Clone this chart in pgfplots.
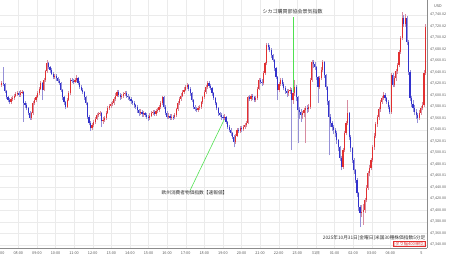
\documentclass[border=0pt]{standalone}
\usepackage{pgfplots}
\usepackage{pgfplotstable}
\pgfplotsset{compat=1.18}
\usepackage{fontspec}
\setmainfont{Noto Sans CJK JP}
\definecolor{upc}{RGB}{226,48,48}
\definecolor{dnc}{RGB}{50,50,205}
\definecolor{upw}{RGB}{215,140,160}
\definecolor{dnw}{RGB}{150,145,215}
\definecolor{gline}{RGB}{80,225,80}
\definecolor{lbl}{RGB}{85,85,85}
\pgfplotstableread{
i o c h l
0 47618 47622 47626 47615
1 47622 47620 47649 47617
2 47620 47608 47622 47605
3 47608 47597 47610 47594
4 47597 47592 47600 47588
5 47592 47589 47595 47585
6 47589 47594 47597 47586
7 47594 47596 47600 47591
8 47596 47599 47602 47593
9 47599 47602 47606 47597
10 47602 47604 47608 47600
11 47604 47601 47607 47598
12 47601 47605 47609 47598
13 47605 47606 47610 47602
14 47606 47587 47608 47554
15 47587 47584 47591 47578
16 47584 47578 47587 47574
17 47578 47570 47580 47566
18 47570 47561 47573 47558
19 47561 47569 47572 47558
20 47569 47587 47590 47566
21 47587 47592 47596 47584
22 47592 47598 47601 47589
23 47598 47604 47607 47595
24 47604 47612 47615 47601
25 47612 47622 47625 47609
26 47622 47610 47624 47592
27 47610 47627 47630 47607
28 47627 47642 47645 47624
29 47642 47656 47661 47639
30 47656 47650 47659 47646
31 47650 47644 47652 47640
32 47644 47638 47647 47635
33 47638 47632 47641 47628
34 47632 47634 47638 47629
35 47634 47630 47637 47626
36 47630 47626 47633 47622
37 47626 47622 47629 47618
38 47622 47610 47624 47606
39 47610 47597 47612 47593
40 47597 47588 47599 47584
41 47588 47580 47590 47576
42 47580 47592 47595 47578
43 47592 47604 47607 47590
44 47604 47627 47630 47601
45 47627 47625 47631 47621
46 47625 47624 47628 47620
47 47624 47627 47631 47621
48 47627 47630 47636 47624
49 47630 47622 47632 47619
50 47622 47615 47625 47611
51 47615 47610 47618 47607
52 47610 47606 47613 47602
53 47606 47597 47608 47593
54 47597 47587 47599 47583
55 47587 47563 47589 47559
56 47563 47552 47566 47548
57 47552 47543 47555 47539
58 47543 47548 47552 47540
59 47548 47554 47558 47545
60 47554 47560 47563 47551
61 47560 47566 47570 47557
62 47566 47568 47572 47562
63 47568 47569 47573 47564
64 47569 47555 47571 47545
65 47555 47558 47562 47551
66 47558 47561 47565 47554
67 47561 47570 47573 47558
68 47570 47578 47581 47567
69 47578 47582 47586 47575
70 47582 47585 47589 47579
71 47585 47587 47591 47581
72 47587 47594 47597 47584
73 47594 47600 47604 47591
74 47600 47606 47610 47597
75 47606 47601 47609 47598
76 47601 47597 47604 47593
77 47597 47599 47603 47594
78 47599 47602 47606 47596
79 47602 47604 47608 47599
80 47604 47600 47607 47596
81 47600 47597 47603 47593
82 47597 47594 47600 47590
83 47594 47590 47597 47586
84 47590 47587 47593 47583
85 47587 47583 47590 47579
86 47583 47580 47586 47576
87 47580 47574 47583 47570
88 47574 47569 47577 47565
89 47569 47572 47576 47566
90 47572 47567 47575 47563
91 47567 47569 47573 47563
92 47569 47566 47572 47562
93 47566 47563 47569 47559
94 47563 47561 47566 47556
95 47561 47565 47569 47558
96 47565 47569 47573 47562
97 47569 47571 47575 47566
98 47571 47568 47574 47564
99 47568 47573 47577 47565
100 47573 47575 47579 47570
101 47575 47580 47584 47572
102 47580 47587 47591 47577
103 47587 47597 47600 47584
104 47597 47580 47599 47576
105 47580 47570 47583 47566
106 47570 47563 47573 47559
107 47563 47565 47569 47559
108 47565 47561 47568 47557
109 47561 47563 47567 47558
110 47563 47562 47566 47558
111 47562 47566 47570 47559
112 47566 47576 47579 47563
113 47576 47587 47590 47573
114 47587 47594 47597 47584
115 47594 47600 47604 47591
116 47600 47606 47610 47597
117 47606 47610 47614 47603
118 47610 47614 47618 47607
119 47614 47618 47622 47611
120 47618 47611 47620 47607
121 47611 47604 47614 47600
122 47604 47592 47606 47588
123 47592 47580 47594 47576
124 47580 47577 47583 47573
125 47577 47575 47580 47571
126 47575 47578 47582 47572
127 47578 47580 47584 47575
128 47580 47588 47591 47577
129 47588 47597 47600 47585
130 47597 47606 47609 47594
131 47606 47615 47618 47603
132 47615 47622 47626 47612
133 47622 47617 47625 47613
134 47617 47613 47620 47609
135 47613 47604 47615 47600
136 47604 47596 47606 47592
137 47596 47587 47598 47583
138 47587 47578 47589 47574
139 47578 47569 47580 47565
140 47569 47566 47572 47562
141 47566 47562 47569 47558
142 47562 47561 47566 47557
143 47561 47563 47567 47557
144 47563 47554 47565 47550
145 47554 47545 47556 47541
146 47545 47540 47548 47536
147 47540 47534 47543 47530
148 47534 47528 47537 47524
149 47528 47519 47531 47510
150 47519 47530 47533 47516
151 47530 47540 47543 47527
152 47540 47538 47544 47534
153 47538 47543 47547 47535
154 47543 47541 47547 47537
155 47541 47545 47549 47538
156 47545 47548 47552 47542
157 47548 47552 47556 47545
158 47552 47597 47600 47550
159 47597 47594 47601 47590
160 47594 47599 47603 47590
161 47599 47597 47603 47592
162 47597 47593 47600 47588
163 47593 47596 47600 47589
164 47596 47612 47615 47593
165 47612 47627 47630 47609
166 47627 47624 47631 47620
167 47624 47622 47628 47617
168 47622 47640 47643 47619
169 47640 47656 47659 47636
170 47656 47688 47692 47653
171 47688 47684 47691 47679
172 47684 47679 47687 47675
173 47679 47670 47682 47666
174 47670 47662 47673 47658
175 47662 47647 47664 47643
176 47647 47632 47649 47628
177 47632 47610 47634 47592
178 47610 47620 47624 47606
179 47620 47627 47631 47616
180 47627 47620 47630 47616
181 47620 47613 47623 47609
182 47613 47608 47616 47603
183 47608 47604 47611 47598
184 47604 47607 47611 47600
185 47607 47610 47615 47602
186 47610 47592 47613 47505
187 47592 47605 47609 47586
188 47605 47615 47627 47600
189 47615 47597 47618 47590
190 47597 47575 47600 47517
191 47575 47572 47580 47560
192 47572 47566 47576 47554
193 47566 47569 47573 47560
194 47569 47574 47578 47562
195 47574 47578 47582 47517
196 47578 47576 47583 47570
197 47576 47580 47585 47571
198 47580 47627 47630 47577
199 47627 47658 47662 47624
200 47658 47654 47661 47648
201 47654 47649 47658 47644
202 47649 47632 47651 47627
203 47632 47615 47634 47587
204 47615 47630 47634 47611
205 47630 47645 47649 47627
206 47645 47658 47662 47641
207 47658 47636 47660 47631
208 47636 47615 47638 47610
209 47615 47590 47617 47584
210 47590 47563 47592 47496
211 47563 47552 47568 47546
212 47552 47545 47556 47538
213 47545 47540 47549 47533
214 47540 47535 47544 47528
215 47535 47522 47538 47516
216 47522 47510 47525 47503
217 47510 47492 47513 47486
218 47492 47476 47495 47470
219 47476 47505 47509 47473
220 47505 47535 47538 47501
221 47535 47552 47556 47531
222 47552 47569 47592 47548
223 47569 47528 47571 47522
224 47528 47508 47531 47502
225 47508 47488 47511 47482
226 47488 47470 47491 47464
227 47470 47453 47473 47447
228 47453 47430 47456 47424
229 47430 47406 47433 47400
230 47406 47396 47409 47371
231 47396 47398 47410 47388
232 47398 47401 47412 47375
233 47401 47418 47422 47396
234 47418 47440 47444 47414
235 47440 47465 47469 47436
236 47465 47474 47480 47460
237 47474 47488 47492 47470
238 47488 47510 47514 47484
239 47510 47530 47534 47506
240 47530 47550 47554 47526
241 47550 47562 47566 47546
242 47562 47576 47580 47558
243 47576 47589 47593 47572
244 47589 47596 47600 47585
245 47596 47601 47606 47592
246 47601 47595 47604 47591
247 47595 47589 47598 47585
248 47589 47580 47592 47576
249 47580 47571 47583 47567
250 47571 47636 47640 47568
251 47636 47618 47639 47614
252 47618 47630 47634 47614
253 47630 47642 47646 47626
254 47642 47653 47657 47638
255 47653 47676 47680 47649
256 47676 47700 47704 47672
257 47700 47735 47745 47696
258 47735 47725 47740 47720
259 47725 47735 47742 47720
260 47735 47693 47738 47688
261 47693 47641 47696 47636
262 47641 47596 47644 47590
263 47596 47585 47600 47580
264 47585 47578 47592 47572
265 47578 47572 47583 47566
266 47572 47566 47577 47560
267 47566 47561 47570 47552
268 47561 47570 47574 47557
269 47570 47578 47582 47566
270 47578 47583 47588 47574
271 47583 47640 47644 47580
272 47640 47720 47725 47636
}\candles
\begin{document}
\begin{tikzpicture}
\useasboundingbox (0pt,-10pt) rectangle (450pt,248pt);
\begin{axis}[
  at={(0pt,0pt)}, anchor=south west,
  width=427pt, height=248pt, scale only axis,
  xmin=-1.09, xmax=272.96, ymin=47334.8, ymax=47766.1,
  axis x line*=bottom, axis y line*=right,
  axis line style={draw=black!45, line width=0.4pt},
  major tick length=0pt,
  xtick={10.65,22.59,34.53,46.47,58.41,70.34,82.28,94.22,106.16,118.10,130.03,141.97,153.91,165.85,177.79,189.72,201.66,213.60,225.54,237.48,249.41},
  xticklabels={08:00,09:00,10:00,11:00,12:00,13:00,14:00,15:00,16:00,17:00,18:00,19:00,20:00,21:00,22:00,23:00,31日,01:00,02:00,03:00,04:00},
  ytick={47340,47360,...,47740},
  scaled y ticks=false,
  grid=major, grid style={draw=black!8, line width=0.4pt},
  /pgf/number format/assume math mode=true,
  y tick label style={/pgf/number format/fixed, /pgf/number format/fixed zerofill, /pgf/number format/precision=2, /pgf/number format/1000 sep={,}, font=\fontsize{3.6}{4}\selectfont, text=lbl, inner sep=0pt, anchor=west, xshift=3pt},
  x tick label style={font=\fontsize{3.8}{4}\selectfont, text=lbl, inner sep=0pt, anchor=north, yshift=-3.2pt},
]
% wicks
\addplot[draw=none, mark=none, forget plot,
  restrict expr to domain={\thisrow{c}-\thisrow{o}}{0:100000},
  error bars/.cd, y dir=plus, y explicit, error mark=none,
  error bar style={draw=upw, line width=0.45pt}]
  table[x=i, y=l, y error expr=\thisrow{h}-\thisrow{l}] {\candles};
\addplot[draw=none, mark=none, forget plot,
  restrict expr to domain={\thisrow{c}-\thisrow{o}}{-100000:-0.5},
  error bars/.cd, y dir=plus, y explicit, error mark=none,
  error bar style={draw=dnw, line width=0.45pt}]
  table[x=i, y=l, y error expr=\thisrow{h}-\thisrow{l}] {\candles};
% bodies
\addplot[draw=none, mark=none, forget plot,
  restrict expr to domain={\thisrow{c}-\thisrow{o}}{0:100000},
  error bars/.cd, y dir=plus, y explicit, error mark=none,
  error bar style={draw=upc, line width=1.15pt, line cap=butt}]
  table[x=i, y=o, y error expr=\thisrow{c}-\thisrow{o}] {\candles};
\addplot[draw=none, mark=none, forget plot,
  restrict expr to domain={\thisrow{c}-\thisrow{o}}{-100000:-0.5},
  error bars/.cd, y dir=plus, y explicit, error mark=none,
  error bar style={draw=dnc, line width=1.15pt, line cap=butt}]
  table[x=i, y=c, y error expr=\thisrow{o}-\thisrow{c}] {\candles};
\end{axis}
% grid line and label for 07:00 at the left edge
\draw[black!8, line width=0.4pt] (-0.3pt,0pt) -- (-0.3pt,248pt);
\node[font=\fontsize{3.8}{4}\selectfont, text=lbl, inner sep=0pt, anchor=north] at (-0.3pt,-3.2pt) {07:00};
% annotations (image px -> pt, y flipped)
\draw[gline, line width=0.65pt] (293.6pt,231pt) -- (293.6pt,156pt);
\node[font=\fontsize{5}{6}\selectfont, text=black!80, inner sep=0pt] at (292.7pt,236.3pt) {シカゴ購買部協会景気指数};
\draw[gline, line width=0.6pt] (224pt,128pt) -- (190pt,57.5pt);
\node[font=\fontsize{4.7}{5.5}\selectfont, text=black!80, inner sep=0pt] at (194.5pt,55pt) {欧州消費者物価指数【速報値】};
\node[font=\fontsize{4.7}{5.5}\selectfont, text=black!80, inner sep=0pt, anchor=east] at (425.5pt,10pt) {2025年10月31日[金曜日]米国30種株価指数5分足};
\node[font=\fontsize{4.2}{5}\selectfont, text=upc, draw=upc, line width=0.35pt, inner sep=0.5pt, anchor=east] at (425.5pt,4.3pt) {[ダウ幅400単位]};
\node[font=\fontsize{3.8}{4}\selectfont, text=lbl, inner sep=0pt] at (438pt,242pt) {USD};
\node[font=\fontsize{3.8}{4}\selectfont, text=lbl, inner sep=0pt] at (421.5pt,-5pt) {5};
\end{tikzpicture}
\end{document}
